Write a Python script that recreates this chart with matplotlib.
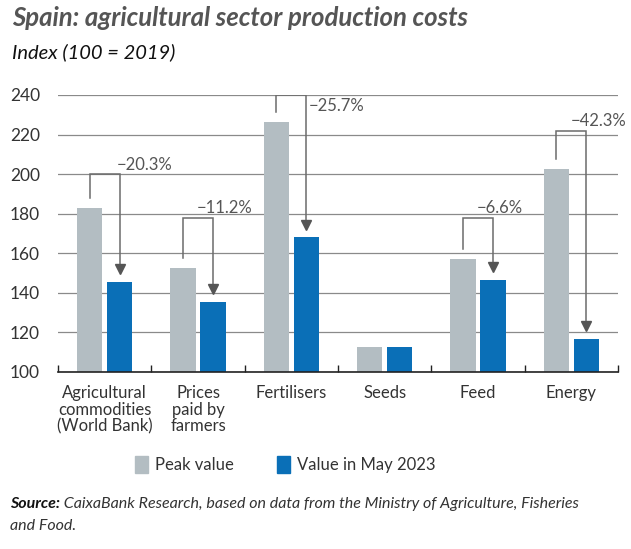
import matplotlib.pyplot as plt
import numpy as np

categories = ['Agricultural\ncommodities\n(World Bank)', 'Prices\npaid by\nfarmers',
              'Fertilisers', 'Seeds', 'Feed', 'Energy']
peak_values = [182.8, 152.8, 226.2, 112.8, 157.0, 202.5]
may_2023_values = [145.7, 135.6, 168.0, 112.8, 146.7, 116.8]
change_labels = ['\u221220.3%', '\u221211.2%', '\u221225.7%', None, '\u22126.6%', '\u221242.3%']

# bracket top level for each annotation (data units)
bracket_tops = [200, 178, 240, None, 178, 222]
# label x offset (px) from right arm of bracket
label_dx = [25, 12, 4, None, 7, 12]

GREY = '#b3bdc2'
BLUE = '#0a6fb7'
LINE = '#6b6b6b'
FONT = 'Lato'

plt.rcParams['font.family'] = [FONT, 'DejaVu Sans']

fig = plt.figure(figsize=(6.31, 5.49), dpi=100)
ax = fig.add_axes([58 / 631, 1 - 372 / 549, 560 / 631, 277 / 549])

x = np.arange(len(categories))
w = 0.27
off = 0.16
ax.bar(x - off, np.array(peak_values) - 100, w, bottom=100, color=GREY, zorder=2)
ax.bar(x + off, np.array(may_2023_values) - 100, w, bottom=100, color=BLUE, zorder=2)

ax.set_xlim(-0.5, len(categories) - 0.5)
ax.set_ylim(100, 240)
ax.set_yticks(np.arange(100, 241, 20))
ax.yaxis.grid(True, color='#8a8a8a', lw=0.9)
ax.set_axisbelow(True)
for s in ['top', 'right', 'left']:
    ax.spines[s].set_visible(False)
ax.spines['bottom'].set_color('#222222')
ax.spines['bottom'].set_linewidth(1.2)
ax.tick_params(axis='y', length=0, labelsize=12.5, colors='#333333', pad=13)
ax.set_xticks(np.arange(-0.5, len(categories), 1.0))
ax.set_xticklabels([])
ax.tick_params(axis='x', direction='in', length=5, color='#222222', width=1)
for i, c in enumerate(categories):
    ax.text(i, 93.5, c, ha='center', va='top', fontsize=12, color='#333333',
            linespacing=1.05)

# change annotations
for i, lab in enumerate(change_labels):
    if lab is None:
        continue
    xl, xr = i - off, i + off
    top = bracket_tops[i]
    ax.plot([xl, xl, xr, xr], [peak_values[i] + 5, top, top, may_2023_values[i] + 8],
            color=LINE, lw=1.1, zorder=3, solid_joinstyle='miter')
    ax.plot([xr], [may_2023_values[i] + 6.5], marker='v', color='#555555',
            markersize=6.5, zorder=3)
    if i == 2:
        ax.annotate(lab, (xr, top), xytext=(2, -2), textcoords='offset points',
                    ha='left', va='top', fontsize=12, color='#555555')
    else:
        ax.annotate(lab, (xr, top), xytext=(label_dx[i] * 0.72, 1), textcoords='offset points',
                    ha='center', va='bottom', fontsize=12, color='#555555')

# titles
fig.text(12 / 631, 1 - 18 / 549, 'Spain: agricultural sector production costs',
         fontsize=18.5, fontweight='bold', style='italic', color='#555555',
         ha='left', va='center')
fig.text(12 / 631, 1 - 52 / 549, 'Index (100 = 2019)', fontsize=14.5, style='italic',
         color='#111111', ha='left', va='center')

# legend
ly = 1 - 465 / 549
for lx, col, txt in [(135, GREY, 'Peak value'), (277, BLUE, 'Value in May 2023')]:
    fig.patches.append(plt.Rectangle((lx / 631, ly - 8 / 549), 13 / 631, 17 / 549,
                                     color=col, transform=fig.transFigure, figure=fig))
    fig.text((lx + 20) / 631, ly, txt, fontsize=12, color='#333333', ha='left', va='center')

# source
src = fig.text(10 / 631, 1 - 504 / 549, 'Source:', fontsize=11.5, fontweight='bold',
               style='italic', color='#111111', ha='left', va='center')
ax.annotate(' CaixaBank Research, based on data from the Ministry of Agriculture, Fisheries',
            xy=(1, 0.5), xycoords=src, ha='left', va='center', fontsize=11.5,
            style='italic', color='#333333')
fig.text(10 / 631, 1 - 526 / 549, 'and Food.', fontsize=11.5, style='italic',
         color='#333333', ha='left', va='center')

fig.savefig('out.png', dpi=100)
